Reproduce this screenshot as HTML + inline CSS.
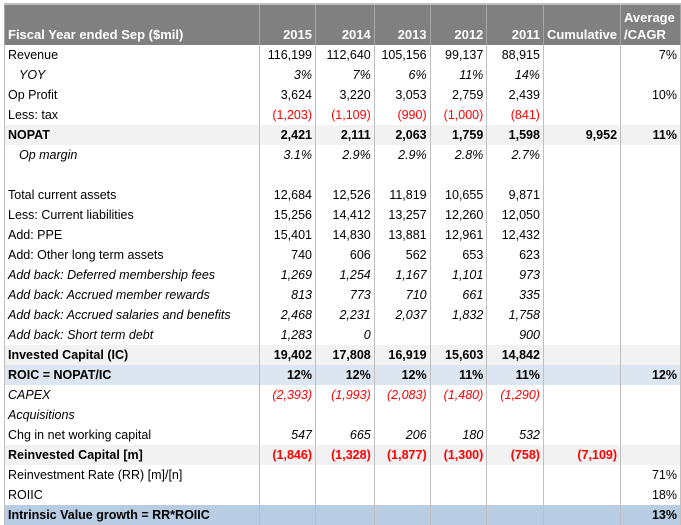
<!DOCTYPE html>
<html><head><meta charset="utf-8"><style>
body{margin:0;background:#fff;width:681px;height:525px;overflow:hidden;font-family:"Liberation Sans",Arial,sans-serif;font-size:12.5px;}
table{position:absolute;left:4px;top:3px;border-collapse:collapse;table-layout:fixed;}
td{height:20px;padding:0 3px;border-left:1px solid #bfbfbf;border-right:1px solid #bfbfbf;text-align:right;white-space:nowrap;overflow:hidden;line-height:20px;box-sizing:border-box;}
td:first-child{text-align:left;}
tr.h td{background:#808080;color:#fff;font-weight:bold;font-size:13px;height:41px;vertical-align:bottom;line-height:17px;padding-bottom:2px;border-color:#a6a6a6;}
tr.g td{background:#f2f2f2;font-weight:bold;}
tr.b td{background:#dce6f1;font-weight:bold;}
tr.bb td{background:#b8cce4;font-weight:bold;}
.i td{font-style:italic;}
.ind{padding-left:14px !important;}
.r{color:#ff0000;}
table{border-top:2px solid #bfbfbf;border-left:1px solid #bfbfbf;}
</style></head><body>
<table>
<colgroup><col style="width:256px"><col style="width:56px"><col style="width:59px"><col style="width:56px"><col style="width:57px"><col style="width:57px"><col style="width:76px"><col style="width:60px"></colgroup>
<tr class="h"><td>Fiscal Year ended Sep ($mil)</td><td>2015</td><td>2014</td><td>2013</td><td>2012</td><td>2011</td><td>Cumulative</td><td style="text-align:left">Average<br>/CAGR</td></tr>
<tr><td>Revenue</td><td>116,199</td><td>112,640</td><td>105,156</td><td>99,137</td><td>88,915</td><td></td><td>7%</td></tr>
<tr class="i"><td class="ind">YOY</td><td>3%</td><td>7%</td><td>6%</td><td>11%</td><td>14%</td><td></td><td></td></tr>
<tr><td>Op Profit</td><td>3,624</td><td>3,220</td><td>3,053</td><td>2,759</td><td>2,439</td><td></td><td>10%</td></tr>
<tr><td>Less: tax</td><td class="r">(1,203)</td><td class="r">(1,109)</td><td class="r">(990)</td><td class="r">(1,000)</td><td class="r">(841)</td><td></td><td></td></tr>
<tr class="g"><td>NOPAT</td><td>2,421</td><td>2,111</td><td>2,063</td><td>1,759</td><td>1,598</td><td>9,952</td><td>11%</td></tr>
<tr class="i"><td class="ind">Op margin</td><td>3.1%</td><td>2.9%</td><td>2.9%</td><td>2.8%</td><td>2.7%</td><td></td><td></td></tr>
<tr><td></td><td></td><td></td><td></td><td></td><td></td><td></td><td></td></tr>
<tr><td>Total current assets</td><td>12,684</td><td>12,526</td><td>11,819</td><td>10,655</td><td>9,871</td><td></td><td></td></tr>
<tr><td>Less: Current liabilities</td><td>15,256</td><td>14,412</td><td>13,257</td><td>12,260</td><td>12,050</td><td></td><td></td></tr>
<tr><td>Add: PPE</td><td>15,401</td><td>14,830</td><td>13,881</td><td>12,961</td><td>12,432</td><td></td><td></td></tr>
<tr><td>Add: Other long term assets</td><td>740</td><td>606</td><td>562</td><td>653</td><td>623</td><td></td><td></td></tr>
<tr class="i"><td>Add back: Deferred membership fees</td><td>1,269</td><td>1,254</td><td>1,167</td><td>1,101</td><td>973</td><td></td><td></td></tr>
<tr class="i"><td>Add back: Accrued member rewards</td><td>813</td><td>773</td><td>710</td><td>661</td><td>335</td><td></td><td></td></tr>
<tr class="i"><td>Add back: Accrued salaries and benefits</td><td>2,468</td><td>2,231</td><td>2,037</td><td>1,832</td><td>1,758</td><td></td><td></td></tr>
<tr class="i"><td>Add back: Short term debt</td><td>1,283</td><td>0</td><td></td><td></td><td>900</td><td></td><td></td></tr>
<tr class="g"><td>Invested Capital (IC)</td><td>19,402</td><td>17,808</td><td>16,919</td><td>15,603</td><td>14,842</td><td></td><td></td></tr>
<tr class="b"><td>ROIC = NOPAT/IC</td><td>12%</td><td>12%</td><td>12%</td><td>11%</td><td>11%</td><td></td><td>12%</td></tr>
<tr class="i"><td>CAPEX</td><td class="r">(2,393)</td><td class="r">(1,993)</td><td class="r">(2,083)</td><td class="r">(1,480)</td><td class="r">(1,290)</td><td></td><td></td></tr>
<tr class="i"><td>Acquisitions</td><td></td><td></td><td></td><td></td><td></td><td></td><td></td></tr>
<tr class="i"><td style="font-style:normal">Chg in net working capital</td><td>547</td><td>665</td><td>206</td><td>180</td><td>532</td><td></td><td></td></tr>
<tr class="g"><td>Reinvested Capital [m]</td><td class="r">(1,846)</td><td class="r">(1,328)</td><td class="r">(1,877)</td><td class="r">(1,300)</td><td class="r">(758)</td><td class="r">(7,109)</td><td></td></tr>
<tr><td>Reinvestment Rate (RR) [m]/[n]</td><td></td><td></td><td></td><td></td><td></td><td></td><td>71%</td></tr>
<tr><td>ROIIC</td><td></td><td></td><td></td><td></td><td></td><td></td><td>18%</td></tr>
<tr class="bb"><td>Intrinsic Value growth = RR*ROIIC</td><td></td><td></td><td></td><td></td><td></td><td></td><td>13%</td></tr>
</table>
</body></html>
